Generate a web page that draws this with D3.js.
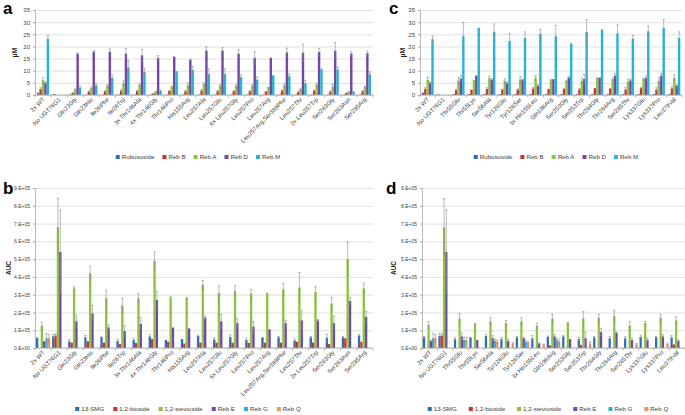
<!DOCTYPE html>
<html>
<head>
<meta charset="utf-8">
<script src="https://d3js.org/d3.v7.min.js"></script>
<style>
  body { margin: 0; background: #fff; }
  svg { font-family: "Liberation Sans", Arial, sans-serif; }
</style>
</head>
<body>
<div id="widget"></div>
<script>
// ---- panel a / c : uM ----
const seriesAC = ['Rubusoside', 'Reb B', 'Reb A', 'Reb D', 'Reb M'];
const colorsAC = ['#2f6db5', '#d4302b', '#8cc43f', '#7148a3', '#27b3d6'];
const ticksUM = [0, 5, 10, 15, 20, 25, 30, 35];

const catsA = ['2x WT', 'No UGT76G1', 'Gln23Gly', 'Gln23His', 'Ile26Phe', 'Ile26Trp', '3x Thr146Ala',
  '4x Thr146Gly', 'Thr146Pro', 'His155Arg', 'Leu257Ala', 'Leu257Glu', '6x Leu257Gly', 'Leu257Pro',
  'Leu257Arg', 'Leu257Arg,Ser389Phe', 'Leu257Thr', '2x Leu257Trp', 'Ser283Gly', 'Ser283Asn', 'Ser285Arg'];
const rubA  = [0.8, 0.4, 0.2, 0.2, 0.2, 0.2, 0.2, 0.2, 0.2, 0.2, 0.2, 0.2, 0.2, 0.2, 0.2, 0.2, 0.2, 0.2, 0.2, 0.2, 0.2];
const rebBA = [2.4, 0, 0.8, 1.4, 1.5, 1.8, 1.6, 0.6, 1.8, 1.5, 1.8, 1.5, 1.5, 1.5, 1.5, 1.8, 1.2, 1.8, 1.4, 0.8, 1.5];
const rebAA = [6.1, 0, 2.2, 2.8, 3.8, 4.8, 4.2, 1.3, 3.8, 4.0, 4.5, 3.8, 3.8, 3.8, 3.3, 4.0, 2.3, 4.2, 3.5, 1.2, 3.3];
const rebDA = [5.0, 0, 17.0, 17.8, 17.8, 17.0, 16.3, 15.2, 15.8, 14.5, 18.3, 18.3, 17.0, 15.3, 15.3, 17.5, 17.4, 17.7, 18.2, 17.0, 17.2];
const rebMA = [23.1, 0, 3.0, 4.0, 7.0, 11.3, 9.5, 1.7, 9.8, 10.3, 8.6, 8.6, 7.3, 6.3, 8.1, 7.7, 4.8, 10.5, 10.4, 1.2, 8.5];
const errRubA = [0.2, 0, 0, 0, 0, 0, 0, 0, 0, 0, 0, 0, 0, 0, 0, 0, 0, 0, 0, 0, 0];
const errBA = [0.6, 0, 0.2, 0.3, 0.3, 0.6, 0.3, 0.1, 0, 0.3, 0.4, 0.3, 0.3, 0.3, 0, 0.3, 0.3, 0.3, 0.3, 0.2, 0.3];
const errAA = [1.0, 0, 0.4, 0.5, 0.6, 1.0, 0.5, 0.2, 0, 1.0, 0.6, 0.5, 0.6, 0.5, 0, 0.6, 0.5, 0.6, 1.0, 0.2, 0.4];
const errDA = [0.5, 0, 0.3, 0.5, 1.2, 2.2, 2.5, 1.0, 0, 0.3, 1.5, 1.2, 1.8, 2.5, 0, 1.8, 3.5, 1.5, 3.5, 0.8, 1.0];
const errMA = [1.3, 0, 0.7, 0.8, 1.2, 3.0, 1.5, 0.3, 0, 1.5, 2.2, 2.2, 1.0, 1.2, 0, 1.0, 1.2, 0.3, 1.2, 0.2, 1.0];

const catsC = ['2x WT', 'No UGT76G1', 'Thr55Glu', 'Thr55Lys', 'Ser56Ala', 'Tyr128Glu', 'Tyr128Ser',
  '3x His155Leu', 'Gln198Arg', 'Ser253Gly', 'Ser253Trp', 'Thr284Gly', 'Thr284Arg', 'Ser285Thr',
  'Lys337Glu', 'Lys337Pro', 'Leu379Val'];
const rubC  = [0.8, 0.3, 0.4, 0.4, 0.4, 0.4, 0.4, 0.4, 0.4, 0.4, 0.4, 0.4, 0.4, 0.4, 0.4, 0.4, 0.4];
const rebBC = [2.5, 0, 2.0, 2.2, 2.5, 2.2, 2.2, 2.7, 2.5, 2.5, 2.3, 2.8, 2.7, 2.3, 2.8, 2.2, 2.7];
const rebAC = [6.2, 0, 5.8, 6.2, 6.8, 5.8, 6.3, 7.0, 6.5, 5.8, 5.8, 7.2, 6.5, 5.5, 6.5, 5.8, 7.0];
const rebDC = [5.0, 0, 6.8, 8.0, 6.3, 5.0, 6.3, 3.8, 6.5, 7.2, 6.6, 7.2, 8.0, 6.0, 7.0, 8.0, 3.8];
const rebMC = [23.0, 0, 24.2, 27.7, 26.0, 22.3, 23.5, 25.2, 24.2, 21.0, 26.0, 26.7, 25.4, 23.2, 26.2, 27.5, 23.5];
const errRubC = [0.2, 0, 0, 0, 0, 0, 0, 0, 0, 0, 0, 0, 0, 0, 0, 0, 0];
const errBC = [0.5, 0, 0.4, 0, 0.5, 0.3, 0.3, 0.4, 0, 0.3, 0.4, 0, 0, 0.8, 0.3, 0.8, 0.8];
const errAC = [1.0, 0, 1.5, 0, 0.8, 1.0, 1.3, 1.0, 0, 0.3, 1.0, 0, 0.5, 1.0, 0.5, 1.3, 1.3];
const errDC = [0.5, 0, 1.3, 0, 0.5, 0.5, 0.3, 0.5, 0, 0.5, 1.8, 0, 1.0, 0.6, 0.8, 1.0, 0.5];
const errMC = [1.3, 0, 5.8, 0, 3.2, 3.0, 2.5, 1.8, 4.5, 0.3, 5.0, 0.3, 3.5, 1.3, 2.2, 3.5, 2.5];

// ---- panel b / d : AUC ----
const seriesBD = ['13-SMG', '1,2-bioside', '1,2-stevioside', 'Reb E', 'Reb G', 'Reb Q'];
const colorsBD = ['#2f6db5', '#d4302b', '#8cc43f', '#7148a3', '#27b3d6', '#f29459'];
const ticksAUC = [0, 1e5, 2e5, 3e5, 4e5, 5e5, 6e5, 7e5, 8e5, 9e5];
const tickLabelsAUC = ['0.E+00', '1.E+05', '2.E+05', '3.E+05', '4.E+05', '5.E+05', '6.E+05', '7.E+05', '8.E+05', '9.E+05'];

const smgB  = [55000, 65000, 38000, 60000, 60000, 40000, 45000, 65000, 45000, 50000, 68000, 48000, 62000, 45000, 60000, 60000, 42000, 60000, 58000, 60000, 70000];
const bioB  = [0, 70000, 30000, 38000, 30000, 22000, 28000, 50000, 35000, 25000, 30000, 30000, 30000, 28000, 30000, 30000, 35000, 30000, 22000, 55000, 35000];
const stevB = [125000, 680000, 335000, 420000, 280000, 240000, 280000, 490000, 290000, 280000, 355000, 310000, 320000, 305000, 310000, 330000, 340000, 315000, 250000, 500000, 335000];
const rebEB = [38000, 540000, 150000, 195000, 115000, 95000, 135000, 270000, 115000, 110000, 170000, 150000, 140000, 120000, 105000, 140000, 155000, 155000, 140000, 265000, 175000];
const rebGB = [55000, 0, 0, 0, 0, 0, 0, 0, 0, 0, 0, 0, 0, 0, 0, 0, 0, 0, 0, 0, 0];
const rebQB = [55000, 0, 0, 0, 0, 0, 0, 0, 0, 0, 0, 0, 0, 0, 0, 0, 0, 0, 0, 0, 0];
const errSmgB  = [5000, 12000, 10000, 10000, 5000, 10000, 10000, 10000, 0, 0, 5000, 10000, 12000, 10000, 0, 5000, 10000, 5000, 20000, 5000, 5000];
const errBioB  = [0, 10000, 0, 0, 0, 0, 0, 0, 0, 0, 0, 0, 0, 0, 0, 0, 0, 0, 0, 0, 0];
const errStevB = [20000, 160000, 10000, 40000, 45000, 40000, 25000, 50000, 0, 5000, 25000, 40000, 30000, 25000, 0, 35000, 85000, 30000, 35000, 95000, 30000];
const errEB    = [0, 235000, 35000, 45000, 15000, 30000, 35000, 50000, 0, 0, 10000, 40000, 25000, 30000, 0, 15000, 55000, 5000, 40000, 20000, 30000];
const errGB    = [25000, 0, 0, 0, 0, 0, 0, 0, 0, 0, 0, 0, 0, 0, 0, 0, 0, 0, 0, 0, 0];
const errQB    = [20000, 0, 0, 0, 0, 0, 0, 0, 0, 0, 0, 0, 0, 0, 0, 0, 0, 0, 0, 0, 0];

const smgD  = [60000, 68000, 50000, 60000, 68000, 50000, 60000, 55000, 62000, 65000, 50000, 60000, 55000, 55000, 62000, 60000, 60000];
const bioD  = [0, 70000, 0, 0, 0, 0, 0, 0, 15000, 0, 18000, 0, 0, 0, 0, 0, 20000];
const stevD = [130000, 680000, 165000, 135000, 150000, 140000, 150000, 125000, 165000, 140000, 165000, 170000, 180000, 125000, 140000, 170000, 155000];
const rebED = [40000, 540000, 65000, 45000, 55000, 40000, 55000, 25000, 65000, 50000, 55000, 90000, 85000, 45000, 45000, 65000, 40000];
const rebGD = [55000, 0, 45000, 0, 40000, 0, 35000, 0, 45000, 0, 0, 0, 0, 0, 0, 0, 0];
const rebQD = [55000, 0, 45000, 0, 35000, 25000, 30000, 25000, 35000, 0, 25000, 0, 0, 20000, 0, 22000, 0];
const errSmgD  = [5000, 15000, 10000, 0, 10000, 10000, 5000, 15000, 5000, 5000, 10000, 5000, 10000, 10000, 10000, 5000, 10000];
const errBioD  = [0, 10000, 0, 0, 0, 0, 0, 0, 0, 0, 0, 0, 0, 0, 0, 0, 0];
const errStevD = [20000, 160000, 30000, 5000, 20000, 15000, 20000, 15000, 25000, 5000, 40000, 20000, 30000, 25000, 10000, 20000, 20000];
const errED    = [5000, 235000, 20000, 0, 15000, 10000, 5000, 5000, 10000, 0, 35000, 20000, 5000, 10000, 10000, 10000, 5000];
const errGD    = [28000, 0, 15000, 0, 10000, 0, 10000, 0, 10000, 0, 0, 0, 0, 0, 0, 0, 0];
const errQD    = [20000, 0, 15000, 0, 10000, 5000, 5000, 0, 15000, 0, 10000, 0, 0, 5000, 0, 5000, 0];

const svg = d3.select('#widget').append('svg').attr('width', 685).attr('height', 415);

function drawPanel(p) {
  const g = svg.append('g');
  const x = d3.scaleBand().domain(p.cats).range([p.x0, p.x1]).paddingInner(p.pad).paddingOuter(p.pad / 2);
  const xs = d3.scaleBand().domain(p.series).range([0, x.bandwidth()]);
  const y = d3.scaleLinear().domain([0, p.max]).range([p.y1, p.y0]);

  // gridlines
  g.append('g')
    .attr('transform', `translate(${p.x0},0)`)
    .call(d3.axisLeft(y).tickValues(p.ticks).tickSize(-(p.x1 - p.x0)).tickFormat(''))
    .call((s) => s.select('.domain').remove())
    .selectAll('line').attr('stroke', '#d9d9d9').attr('stroke-width', 0.8);

  // y axis
  const ya = g.append('g')
    .attr('transform', `translate(${p.x0},0)`)
    .call(d3.axisLeft(y).tickValues(p.ticks).tickSize(2).tickPadding(3).tickFormat((d, i) => p.tickLabels[i]));
  ya.select('.domain').attr('stroke', '#a6a6a6').attr('stroke-width', 0.8);
  ya.selectAll('line').attr('stroke', '#a6a6a6');
  ya.selectAll('text').attr('font-size', p.tickFont).attr('fill', '#404040').attr('font-family', 'Liberation Sans, Arial');

  // bars
  p.vals.forEach((vs, si) => {
    const sname = p.series[si];
    g.append('g').selectAll('rect').data(vs).enter().append('rect')
      .attr('x', (d, i) => x(p.cats[i]) + xs(sname))
      .attr('width', xs.bandwidth())
      .attr('y', (d) => y(d))
      .attr('height', (d) => y(0) - y(d))
      .attr('fill', p.colors[si]);
  });

  // error bars
  p.vals.forEach((vs, si) => {
    const sname = p.series[si];
    const es = p.errs[si];
    const eg = g.append('g').attr('stroke', '#8c8c8c').attr('stroke-width', 0.6).attr('fill', 'none');
    vs.forEach((v, i) => {
      const e = es[i];
      if (!e) return;
      const cx = x(p.cats[i]) + xs(sname) + xs.bandwidth() / 2;
      const lo = Math.max(0, v - e);
      eg.append('line').attr('x1', cx).attr('x2', cx).attr('y1', y(lo)).attr('y2', y(v + e));
      eg.append('line').attr('x1', cx - 1.2).attr('x2', cx + 1.2).attr('y1', y(v + e)).attr('y2', y(v + e));
      eg.append('line').attr('x1', cx - 1.2).attr('x2', cx + 1.2).attr('y1', y(lo)).attr('y2', y(lo))
        .attr('stroke-opacity', 0.6);
    });
  });

  // x axis
  g.append('line').attr('x1', p.x0).attr('x2', p.x1).attr('y1', p.y1).attr('y2', p.y1)
    .attr('stroke', '#a6a6a6').attr('stroke-width', 0.8);
  const bounds = p.cats.map((c) => x(c) - (x.step() - x.bandwidth()) / 2).concat([p.x1]);
  g.append('g').selectAll('line').data(bounds).enter().append('line')
    .attr('x1', (d) => d).attr('x2', (d) => d).attr('y1', p.y1).attr('y2', p.y1 + 2.5)
    .attr('stroke', '#a6a6a6').attr('stroke-width', 0.8);
  g.append('g').selectAll('text').data(p.cats).enter().append('text')
    .attr('transform', (d) => `translate(${x(d) + x.bandwidth() / 2 + 2},${p.y1 + 5}) rotate(-45)`)
    .attr('text-anchor', 'end')
    .attr('font-size', 6)
    .attr('fill', '#404040')
    .text((d) => d);

  // y label
  g.append('text')
    .attr('transform', `translate(${p.ylabX},${(p.y0 + p.y1) / 2}) rotate(-90)`)
    .attr('text-anchor', 'middle')
    .attr('font-size', p.ylabFont)
    .attr('font-weight', 'bold')
    .attr('fill', '#262626')
    .text(p.ylabel);

  // panel letter
  g.append('text').attr('x', p.letterX).attr('y', p.letterY)
    .attr('font-size', 17).attr('font-weight', 'bold').attr('fill', '#000')
    .text(p.letter);

  // legend
  const lg = g.append('g').attr('font-size', 6.2).attr('fill', '#404040');
  let lx = 0;
  p.series.forEach((s, i) => {
    const it = lg.append('g').attr('transform', `translate(${lx},0)`);
    it.append('rect').attr('x', 0).attr('y', -4).attr('width', 4).attr('height', 4).attr('fill', p.colors[i]);
    const t = it.append('text').attr('x', 6).attr('y', 0).text(s);
    lx += 6 + t.node().getComputedTextLength() + p.legGap;
  });
  const total = lx - p.legGap;
  lg.attr('transform', `translate(${p.legCx - total / 2},${p.legY})`);
}

drawPanel({
  cats: catsA, series: seriesAC, colors: colorsAC,
  vals: [rubA, rebBA, rebAA, rebDA, rebMA], errs: [errRubA, errBA, errAA, errDA, errMA],
  x0: 35, x1: 373, y0: 10, y1: 95, max: 35, ticks: ticksUM, tickLabels: ticksUM.map(String), tickFont: 6,
  pad: 0.25, ylabel: 'µM', ylabX: 17, ylabFont: 7, letter: 'a', letterX: 3, letterY: 14,
  legY: 159, legCx: 198, legGap: 8
});

drawPanel({
  cats: catsC, series: seriesAC, colors: colorsAC,
  vals: [rubC, rebBC, rebAC, rebDC, rebMC], errs: [errRubC, errBC, errAC, errDC, errMC],
  x0: 420, x1: 682, y0: 10, y1: 95, max: 35, ticks: ticksUM, tickLabels: ticksUM.map(String), tickFont: 6,
  pad: 0.22, ylabel: 'µM', ylabX: 405, ylabFont: 7, letter: 'c', letterX: 389, letterY: 14,
  legY: 159, legCx: 556, legGap: 8
});

drawPanel({
  cats: catsA, series: seriesBD, colors: colorsBD,
  vals: [smgB, bioB, stevB, rebEB, rebGB, rebQB], errs: [errSmgB, errBioB, errStevB, errEB, errGB, errQB],
  x0: 35, x1: 373, y0: 188, y1: 348, max: 9e5, ticks: ticksAUC, tickLabels: tickLabelsAUC, tickFont: 5,
  pad: 0.12, ylabel: 'AUC', ylabX: 11, ylabFont: 6.5, letter: 'b', letterX: 3, letterY: 194,
  legY: 411, legCx: 188, legGap: 9
});

drawPanel({
  cats: catsC, series: seriesBD, colors: colorsBD,
  vals: [smgD, bioD, stevD, rebED, rebGD, rebQD], errs: [errSmgD, errBioD, errStevD, errED, errGD, errQD],
  x0: 422, x1: 685, y0: 188, y1: 348, max: 9e5, ticks: ticksAUC, tickLabels: tickLabelsAUC, tickFont: 5,
  pad: 0.12, ylabel: 'AUC', ylabX: 396, ylabFont: 6.5, letter: 'd', letterX: 386, letterY: 194,
  legY: 411, legCx: 548, legGap: 12
});
</script>
</body>
</html>
